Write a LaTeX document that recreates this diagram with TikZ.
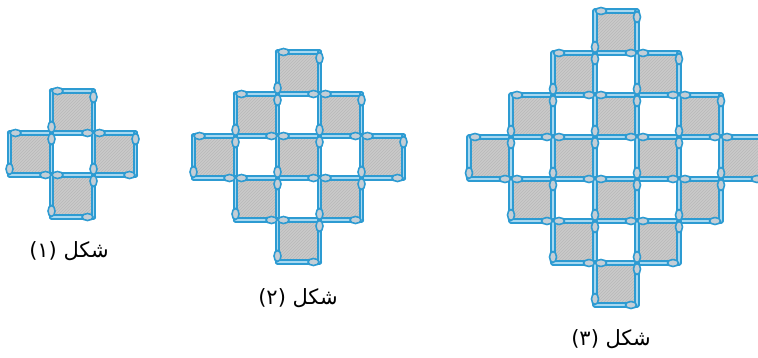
\documentclass[tikz,border=0pt]{standalone}
\usepackage{fontspec}
\newfontfamily\arabicfont[Script=Arabic]{DejaVu Sans}
\TeXXeTstate=1
\usetikzlibrary{patterns}
\pgfdeclarelayer{back}
\pgfdeclarelayer{front}
\pgfsetlayers{back,main,front}
\definecolor{stickblue}{HTML}{2D9BD2}
\definecolor{sticklight}{HTML}{A8D8F0}
\definecolor{headfill}{HTML}{C4CED6}
\definecolor{tilegray}{HTML}{CACACA}

\begin{document}
\begin{tikzpicture}[x=1pt,y=-1pt,
  stick/.style={draw=stickblue,double=sticklight,double distance=1.6pt,line width=1.8pt,line cap=round},
  head/.style={draw=stickblue,fill=headfill,line width=1.6pt},
  tile/.style={fill=tilegray},
  hatch/.style={pattern=north east lines,pattern color=black!28},
  lbl/.style={font=\arabicfont\fontsize{21}{24}\selectfont,inner sep=0pt},
  sq/.pic={
    \begin{pgfonlayer}{back}
      \fill[tile](-21,-21) rectangle (21,21);
      \fill[hatch](-21,-21) rectangle (21,21);
    \end{pgfonlayer}
    \foreach \r in {0,90,180,270}{
      \begin{scope}[rotate=\r]
        \draw[stick](21,-21)--(-21,-21);
        \begin{pgfonlayer}{front}
          \draw[head](-15,-21) ellipse (5.5 and 3.5);
        \end{pgfonlayer}
      \end{scope}}
  }]
\useasboundingbox (0,0) rectangle (758,357);
% shape 1
\foreach \i/\j in {0/-1,-1/0,1/0,0/1}
  \pic at ({72.5+42*\i},{154+42*\j}) {sq};
% shape 2
\foreach \i/\j in {0/-2,-1/-1,1/-1,-2/0,0/0,2/0,-1/1,1/1,0/2}
  \pic at ({298.5+42*\i},{157+42*\j}) {sq};
% shape 3
\foreach \i/\j in {0/-3,-1/-2,1/-2,-2/-1,0/-1,2/-1,-3/0,-1/0,1/0,3/0,
                   -2/1,0/1,2/1,-1/2,1/2,0/3}
  \pic at ({616+42*\i},{158+42*\j}) {sq};
% labels
\node[lbl](t1) at (69,251){\beginR شكل (١)\endR};
\node[lbl](t2) at (298,298){\beginR شكل (٢)\endR};
\node[lbl](t3) at (611,339){\beginR شكل (٣)\endR};
\end{tikzpicture}
\end{document}
